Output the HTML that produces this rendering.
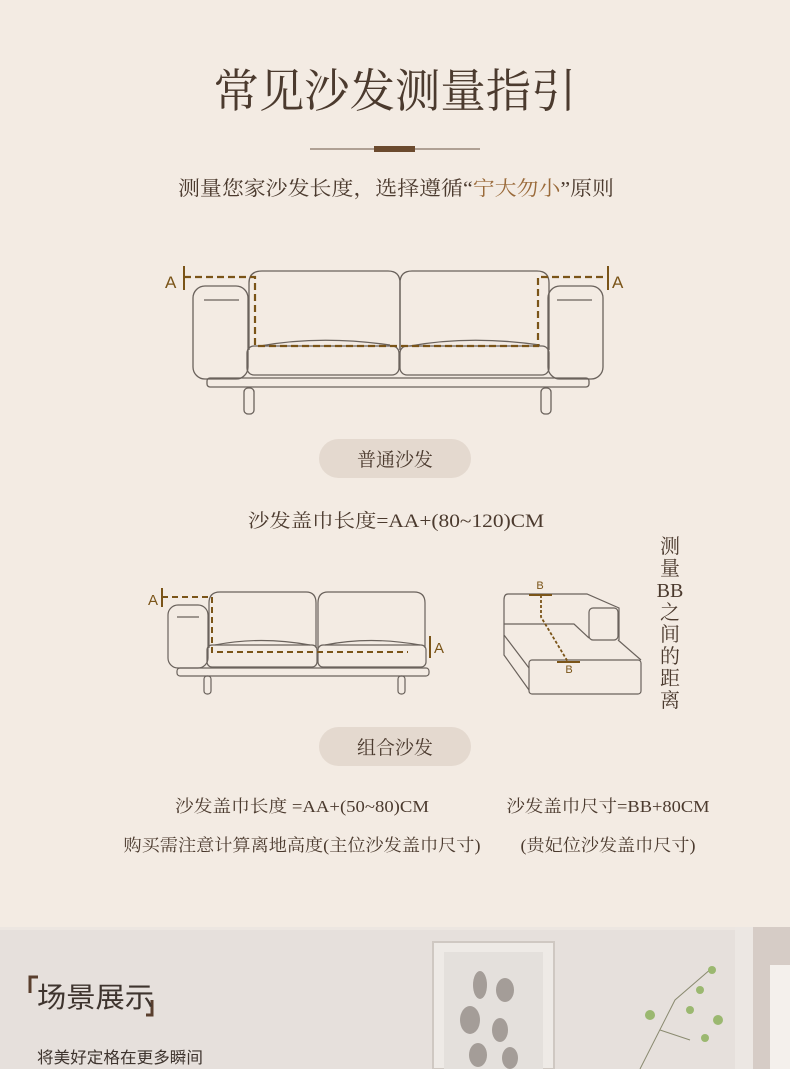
<!DOCTYPE html>
<html><head><meta charset="utf-8"><style>
html,body{margin:0;padding:0;background:#f3ebe3;}
svg{display:block}
text{font-family:"Liberation Serif","Noto Serif CJK SC",serif;}
.s{font-family:"Liberation Sans","Noto Sans CJK SC",sans-serif;}
</style></head><body>
<svg width="790" height="1069" viewBox="0 0 790 1069" xmlns="http://www.w3.org/2000/svg">
<rect width="790" height="927" fill="#f3ebe3"/>
<text x="395" y="107" text-anchor="middle" font-size="46" fill="#4b3a2e" textLength="363" lengthAdjust="spacingAndGlyphs">常见沙发测量指引</text>
<line x1="310" y1="149" x2="480" y2="149" stroke="#6b5444" stroke-width="1"/>
<rect x="374" y="146" width="41" height="6" fill="#6b4a2e"/>
<text x="178" y="195" font-size="20" fill="#4b3a2e" textLength="436" lengthAdjust="spacingAndGlyphs">测量您家沙发长度，选择遵循“<tspan fill="#9a6a3a">宁大勿小</tspan>”原则</text>

<!-- Sofa 1 -->
<g fill="none" stroke="#6a625c" stroke-width="1.3">
<rect x="193" y="286" width="55" height="93" rx="12"/>
<rect x="548" y="286" width="55" height="93" rx="12"/>
<line x1="204" y1="300" x2="239" y2="300"/>
<line x1="557" y1="300" x2="592" y2="300"/>
<path d="M249 350 V283 Q249 271 262 271 H388 Q400 271 400 283 V350"/>
<path d="M400 350 V283 Q400 271 412 271 H537 Q549 271 549 283 V350"/>
<rect x="247" y="346" width="152" height="29" rx="7"/>
<rect x="400" y="346" width="149" height="29" rx="7"/>
<path d="M260 346 Q320 335 390 345"/><path d="M410 346 Q470 335 540 345"/>
<rect x="207" y="378" width="382" height="9" rx="3"/>
<rect x="244" y="388" width="10" height="26" rx="4"/>
<rect x="541" y="388" width="10" height="26" rx="4"/>
</g>
<g fill="none" stroke="#7a5418" stroke-width="2.2" stroke-dasharray="7,4">
<path d="M184 277 H255 V346 H538 V277 H608"/>
</g>
<line x1="184" y1="266" x2="184" y2="290" stroke="#7a5418" stroke-width="2"/>
<line x1="608" y1="266" x2="608" y2="290" stroke="#7a5418" stroke-width="2"/>
<text class="s" x="165" y="288" font-size="17" fill="#7a5418">A</text>
<text class="s" x="612" y="288" font-size="17" fill="#7a5418">A</text>

<rect x="319" y="439" width="152" height="39" rx="19.5" fill="#e4d9cf"/>
<text x="395" y="466" text-anchor="middle" font-size="19" fill="#4b3a2e">普通沙发</text>
<text x="396" y="527" text-anchor="middle" font-size="19" fill="#4b3a2e" textLength="296" lengthAdjust="spacingAndGlyphs">沙发盖巾长度=AA+(80~120)CM</text>

<!-- vertical text -->
<g font-size="20" fill="#4b3a2e" text-anchor="middle">
<text x="670" y="553">测</text><text x="670" y="575">量</text>
<text x="670" y="597">BB</text><text x="670" y="619">之</text>
<text x="670" y="641">间</text><text x="670" y="663">的</text>
<text x="670" y="685">距</text><text x="670" y="707">离</text>
</g>

<!-- Sofa 2 -->
<g fill="none" stroke="#6a625c" stroke-width="1.2">
<rect x="168" y="605" width="40" height="63" rx="10"/>
<line x1="177" y1="617" x2="199" y2="617"/>
<path d="M209 648 V603 Q209 592 220 592 H306 Q316 592 316 603 V648"/>
<path d="M318 648 V603 Q318 592 328 592 H414 Q425 592 425 603 V648"/>
<rect x="207" y="645" width="110" height="22" rx="5"/>
<rect x="318" y="645" width="108" height="22" rx="5"/>
<path d="M215 645 Q260 636 310 645"/><path d="M325 645 Q370 636 420 645"/>
<rect x="177" y="668" width="252" height="8" rx="3"/>
<rect x="204" y="676" width="7" height="18" rx="3"/>
<rect x="398" y="676" width="7" height="18" rx="3"/>
</g>
<path d="M162 597 H212 V652 H408" fill="none" stroke="#7a5418" stroke-width="2" stroke-dasharray="6,4"/>
<line x1="162" y1="588" x2="162" y2="607" stroke="#7a5418" stroke-width="2"/>
<line x1="430" y1="636" x2="430" y2="658" stroke="#7a5418" stroke-width="2"/>
<text class="s" x="148" y="605" font-size="15" fill="#7a5418">A</text>
<text class="s" x="434" y="653" font-size="15" fill="#7a5418">A</text>

<!-- corner sofa -->
<g fill="none" stroke="#6a625c" stroke-width="1.2">
<path d="M508 594 H587 L619 608 V640"/>
<path d="M508 594 Q504 594 504 600 V624"/>
<rect x="589" y="608" width="29" height="32" rx="4"/>
<path d="M504 624 H574 L589 638"/>
<path d="M618 640 L641 660"/>
<path d="M504 624 V635 L529 668"/>
<rect x="529" y="660" width="112" height="34" rx="3"/>
<path d="M504 635 V655 L529 690"/>
</g>
<path d="M541 595 V617 L568 662" fill="none" stroke="#7a5418" stroke-width="1.8" stroke-dasharray="3,2"/>
<line x1="529" y1="595" x2="552" y2="595" stroke="#7a5418" stroke-width="2"/>
<line x1="557" y1="662" x2="580" y2="662" stroke="#7a5418" stroke-width="2"/>
<text class="s" x="540" y="589" font-size="11" text-anchor="middle" fill="#7a5418">B</text>
<text class="s" x="569" y="673" font-size="11" text-anchor="middle" fill="#7a5418">B</text>

<rect x="319" y="727" width="152" height="39" rx="19.5" fill="#e4d9cf"/>
<text x="395" y="754" text-anchor="middle" font-size="19" fill="#4b3a2e">组合沙发</text>

<text x="302" y="812" text-anchor="middle" font-size="17" fill="#4b3a2e" textLength="254" lengthAdjust="spacingAndGlyphs">沙发盖巾长度 =AA+(50~80)CM</text>
<text x="608" y="812" text-anchor="middle" font-size="17" fill="#4b3a2e" textLength="203" lengthAdjust="spacingAndGlyphs">沙发盖巾尺寸=BB+80CM</text>
<text x="302" y="851" text-anchor="middle" font-size="17" fill="#4b3a2e" textLength="357" lengthAdjust="spacingAndGlyphs">购买需注意计算离地高度(主位沙发盖巾尺寸)</text>
<text x="608" y="851" text-anchor="middle" font-size="17" fill="#4b3a2e" textLength="175" lengthAdjust="spacingAndGlyphs">(贵妃位沙发盖巾尺寸)</text>

<!-- bottom scene -->
<rect x="0" y="927" width="790" height="142" fill="#e6e0dc"/>
<rect x="0" y="927" width="790" height="3" fill="#ece6e1"/>
<rect x="735" y="927" width="18" height="142" fill="#ece7e3"/>
<rect x="753" y="927" width="37" height="142" fill="#d6ccc6"/>
<rect x="770" y="965" width="20" height="104" fill="#f4f0ec"/>
<rect x="433" y="942" width="121" height="127" fill="#eeeae6" stroke="#cfc8c2" stroke-width="2"/>
<rect x="444" y="952" width="99" height="117" fill="#e4e0dc"/>
<g fill="#a49d98">
<ellipse cx="480" cy="985" rx="7" ry="14"/><ellipse cx="505" cy="990" rx="9" ry="12"/>
<ellipse cx="470" cy="1020" rx="10" ry="14"/><ellipse cx="500" cy="1030" rx="8" ry="12"/>
<ellipse cx="478" cy="1055" rx="9" ry="12"/><ellipse cx="510" cy="1058" rx="8" ry="11"/>
</g>
<g stroke="#8a8a70" stroke-width="1" fill="none"><path d="M640 1069 L675 1000 L712 968"/><path d="M660 1030 L690 1040"/></g>
<g fill="#9bb870"><circle cx="712" cy="970" r="4"/><circle cx="700" cy="990" r="4"/><circle cx="718" cy="1020" r="5"/><circle cx="650" cy="1015" r="5"/><circle cx="690" cy="1010" r="4"/><circle cx="705" cy="1038" r="4"/></g>
<path d="M30 993 V977 H38" fill="none" stroke="#5a3f2e" stroke-width="3"/>
<path d="M152 1000 V1015 H146" fill="none" stroke="#5a3f2e" stroke-width="3"/>
<text class="s" x="37" y="1007" font-size="28" fill="#3e342e" textLength="117" lengthAdjust="spacingAndGlyphs">场景展示</text>
<text class="s" x="37" y="1063" font-size="16" fill="#3e342e" textLength="166" lengthAdjust="spacingAndGlyphs">将美好定格在更多瞬间</text>
</svg>
</body></html>
